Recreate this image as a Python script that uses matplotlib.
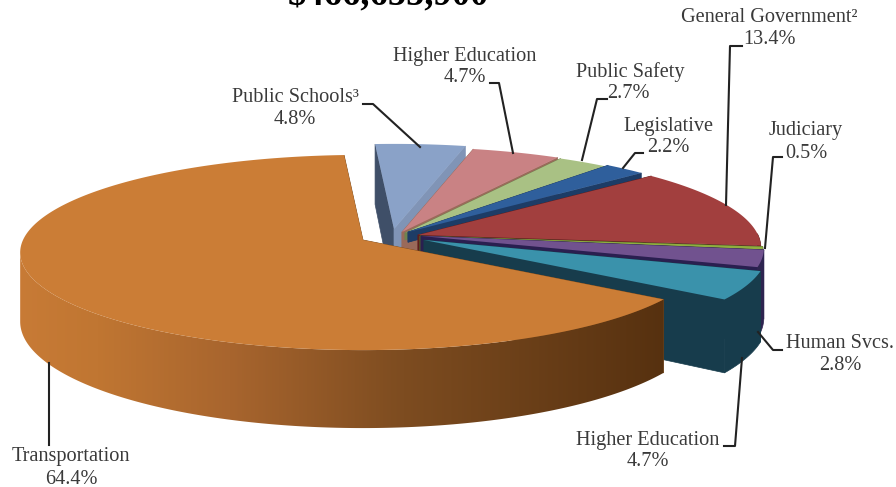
import matplotlib
matplotlib.use('Agg')
import matplotlib.pyplot as plt
from matplotlib.colors import to_rgb
from matplotlib.patches import Polygon
import numpy as np

categories = ['Transportation', 'Public Schools³', 'Higher Education', 'Public Safety', 'Legislative',
              'General Government²', 'Judiciary', 'Human Svcs.', 'Higher Education']
shares = [64.4, 4.8, 4.7, 2.7, 2.2, 13.4, 0.5, 2.8, 4.7]
share_labels = ['64.4%', '4.8%', '4.7%', '2.7%', '2.2%', '13.4%', '0.5%', '2.8%', '4.7%']
title_text = '$466,655,900'

top_colors = ['#cb7d36', '#8aa2c8', '#c98284', '#a9c184', '#2f5f9c', '#a23f3e', '#8fae3f', '#71528f', '#3a92ab']
wall_colors = ['#7a4a1c', '#3f4f68', '#8a5556', '#6f8350', '#1d3c66', '#5e1d1c', '#55682a', '#2e2450', '#173c4c']
inner_colors = ['#7a4a1c', '#8094b6', '#9a6a5a', '#6f8350', '#1d3c66', '#5e1d1c', '#55682a', '#2a1f50', '#173c4c']
left_colors = ['#7a4a1c', '#3f4f68', '#9a6a5a', '#6f8350', '#1d3c66', '#5e1d1c', '#55682a', '#2a1f50', '#173c4c']
# where each wedge's point sits on the page, pixels
apex_x = [363, 394, 402, 405, 408, 418, 420, 421, 424]
apex_y = [240, 229, 232, 233, 232, 235, 236, 236, 240]
# the two thin back wedges only show a sliver of side
side_scale = [1, 1, 1, 0.1, 0.15, 1, 1, 1, 1]

RX, RY, KP, DEPTH = 340, 96, 0.128, 68
START = -3.6

# orange side gets darker going right
grad_x = [20, 100, 230, 400, 665]
grad_c = ['#c87b36', '#c07632', '#a8652e', '#7d4c20', '#55300f']


def project(ax_, ay_, ang):
    th = np.radians(ang)
    x, y = np.sin(th), np.cos(th)
    s = 1 / (1 + KP * y)
    return ax_ + RX * x * s, ay_ - RY * y * s, DEPTH * s


def draw_slice(ax, i, a0, a1, z):
    angs = np.linspace(a0, a1, max(int(abs(a1 - a0)), 2) * 2 + 1)
    px, py, pd = project(apex_x[i], apex_y[i], angs)
    pd = pd * side_scale[i]
    ax_, ay_ = apex_x[i], apex_y[i]
    d0 = DEPTH * side_scale[i]
    ax.fill([ax_, px[0], px[0], ax_], [ay_, py[0], py[0] + pd[0], ay_ + d0],
            color=left_colors[i], lw=0.5, zorder=z)
    ax.fill([ax_, px[-1], px[-1], ax_], [ay_, py[-1], py[-1] + pd[-1], ay_ + d0],
            color=inner_colors[i], lw=0.5, zorder=z)
    # outer wall, front half only
    front = np.cos(np.radians(angs)) <= 0.02
    if i == 0:
        front[np.argmin(px) + 1:] = False
    if front.sum() > 1:
        wall_x = np.r_[px[front], px[front][::-1]]
        wall_y = np.r_[py[front], (py + pd)[front][::-1]]
        if i == 0:
            xs = np.linspace(grad_x[0], grad_x[-1], 300)
            rgb = np.array([to_rgb(c) for c in grad_c])
            img = np.stack([np.interp(xs, grad_x, rgb[:, k]) for k in range(3)], axis=1)[None, :, :]
            im = ax.imshow(img, extent=(grad_x[0] - 5, grad_x[-1] + 10, 487, 0), aspect='auto', zorder=z + 1)
            im.set_clip_path(Polygon(np.c_[wall_x, wall_y], transform=ax.transData))
        else:
            ax.fill(wall_x, wall_y, color=wall_colors[i], lw=0.5, zorder=z + 1)
    ax.fill(np.r_[ax_, px], np.r_[ay_, py], color=top_colors[i], lw=0, zorder=z + 2)


fig = plt.figure(figsize=(8.96, 4.87), dpi=100)
ax = fig.add_axes([0, 0, 1, 1])
ax.axis('off')

# slices run clockwise from the start angle, the big one wraps round the left
total = sum(shares)
sweeps = [v / total * 360 for v in shares]
edge = START
bounds = [(START - sweeps[0], START)]
for v in sweeps[1:]:
    bounds.append((edge, edge + v))
    edge += v
order = list(range(1, len(shares))) + [0]
for n, i in enumerate(order):
    draw_slice(ax, i, bounds[i][0], bounds[i][1], n * 3 + 1)

ax.set_xlim(0, 896)
ax.set_ylim(487, 0)

label_x = [71, 295, 465, 630, 668, 769, 806, 840, 648]
label_y = [457, 97, 56, 72, 126, 18, 131, 344, 440]
pct_x = [71, 295, 465, 628, 668, 769, 806, 840, 648]
for i in range(len(categories)):
    ax.text(label_x[i], label_y[i], categories[i], family='Liberation Serif', fontsize=14.6, color='#3a3a3a',
            ha='center', va='center', zorder=50)
    ax.text(pct_x[i], label_y[i] + 22, share_labels[i], family='Liberation Serif', fontsize=14.6, color='#3a3a3a',
            ha='center', va='center', zorder=50)

# leader lines
leaders = [
    ([49, 49], [363, 445]),
    ([363, 373, 420], [104, 104, 147]),
    ([490, 499, 513], [83, 83, 153]),
    ([607, 597, 582], [99, 99, 160]),
    ([643, 635, 623], [153, 153, 168]),
    ([742, 730, 726], [46, 46, 205]),
    ([782, 773, 765], [157, 157, 248]),
    ([782, 773, 758], [350, 350, 332]),
    ([724, 735, 742], [446, 446, 358]),
]
for xs, ys in leaders:
    ax.plot(xs, ys, color='#222222', lw=1.5, zorder=40)

ax.text(388, 4, title_text, family='Liberation Serif', fontsize=26.4, fontweight='bold', color='black',
        ha='center', va='baseline', zorder=50, clip_on=False)

fig.savefig('out.png', dpi=100)
